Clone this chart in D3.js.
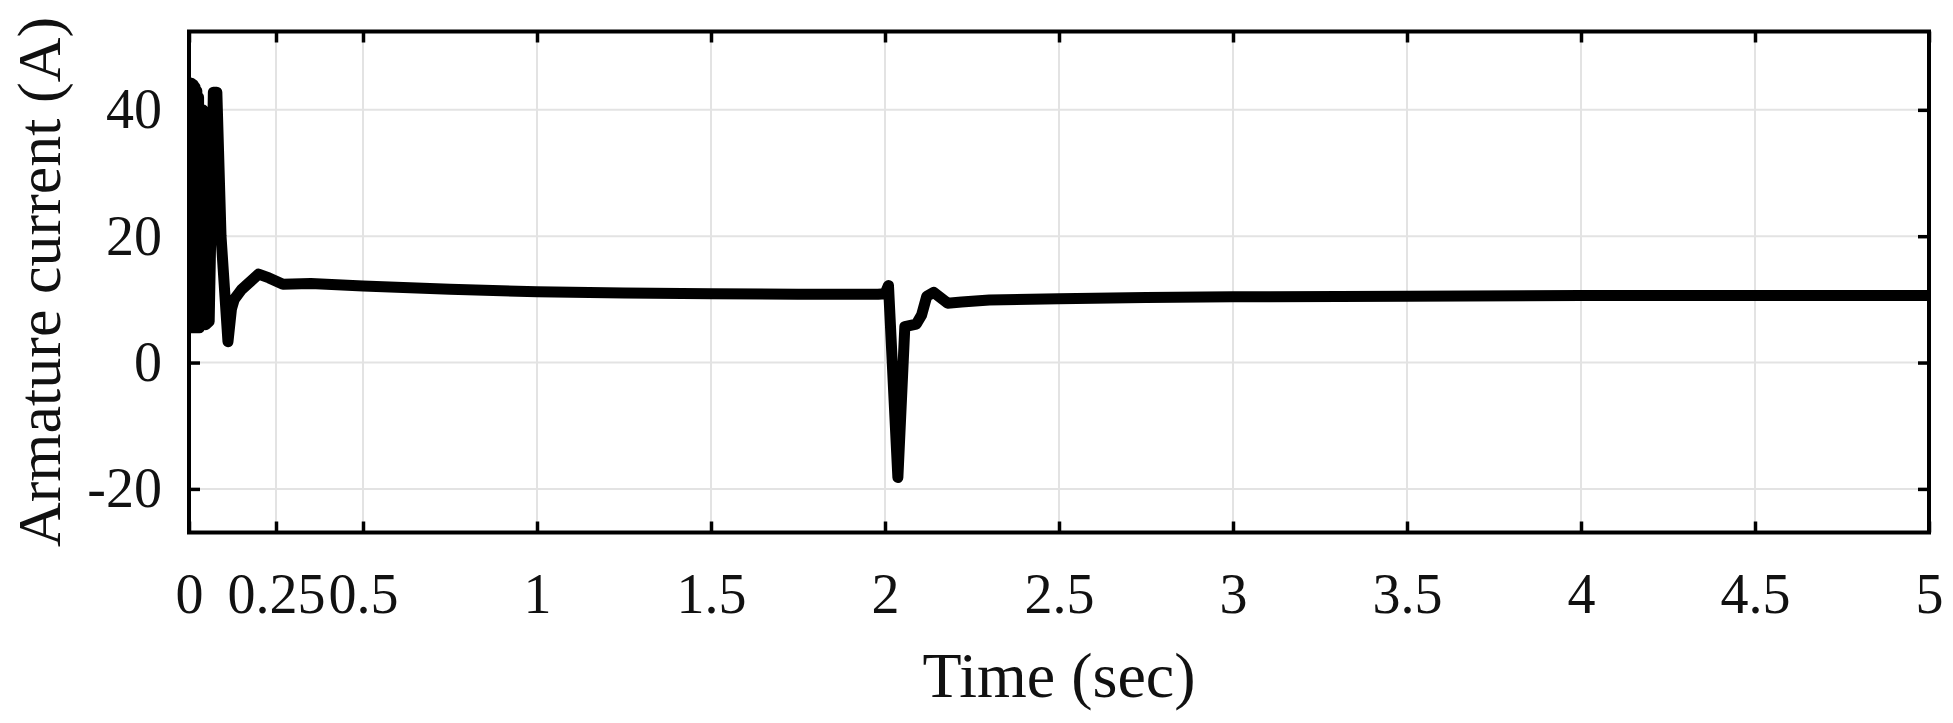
<!DOCTYPE html>
<html lang="en">
<head>
<meta charset="utf-8">
<title>Armature current</title>
<script src="https://cdn.jsdelivr.net/npm/d3@7/dist/d3.min.js"></script>
<style>
  html, body { margin: 0; padding: 0; background: #fff; }
  svg text { font-family: "Liberation Serif", "Times New Roman", serif; fill: #111; }
</style>
</head>
<body>
<svg width="1953" height="723"></svg>
<script>
// time (s) and armature current (A)
var timeSec = [0, 0.0025, 0.005, 0.0075, 0.01, 0.0125, 0.015, 0.0175, 0.02, 0.0225,
  0.025, 0.0275, 0.03, 0.04, 0.048, 0.058, 0.07, 0.08, 0.092, 0.112, 0.122, 0.13,
  0.15, 0.2, 0.23, 0.27, 0.35, 0.5, 0.75, 1.0, 1.25, 1.5, 1.75, 1.98, 2.0, 2.01,
  2.037, 2.057, 2.09, 2.105, 2.12, 2.14, 2.18, 2.22, 2.3, 2.5, 2.75, 3.0, 3.5,
  4.0, 4.5, 5.0];
var currentA = [5.5, 44.3, 5.5, 44.2, 5.5, 44, 5.5, 43.6, 5.5, 43, 5.5, 42, 5.5,
  40, 6, 6.5, 42.8, 42.8, 20, 3.3, 8.5, 10,
  11.5, 14, 13.4, 12.4, 12.5, 12.1, 11.6, 11.2, 11, 10.9, 10.8, 10.8, 10.9, 12.2,
  -18.2, 5.7, 6.1, 7.5, 10.5, 11.1, 9.4, 9.6, 9.9, 10.1, 10.3, 10.4, 10.5,
  10.6, 10.6, 10.6];

var xTickValues = [0, 0.25, 0.5, 1, 1.5, 2, 2.5, 3, 3.5, 4, 4.5, 5];
var xTickLabels = ['0', '0.25', '0.5', '1', '1.5', '2', '2.5', '3', '3.5', '4', '4.5', '5'];
var yTickValues = [-20, 0, 20, 40];
var yTickLabels = ['-20', '0', '20', '40'];

var svg = d3.select('svg');
var pLeft = 189, pRight = 1929, pTop = 31.5, pBottom = 532.5;

var x = d3.scaleLinear().domain([0, 5]).range([pLeft, pRight]);
var y = d3.scaleLinear().domain([-26.9, 52.4]).range([pBottom, pTop]);

// grid
svg.append('g').selectAll('line.vgrid')
  .data(xTickValues)
  .enter().append('line')
  .attr('x1', d => x(d)).attr('x2', d => x(d))
  .attr('y1', pTop).attr('y2', pBottom)
  .style('stroke', '#e3e3e3').style('stroke-width', 2);
svg.append('g').selectAll('line.hgrid')
  .data(yTickValues)
  .enter().append('line')
  .attr('x1', pLeft).attr('x2', pRight)
  .attr('y1', d => y(d)).attr('y2', d => y(d))
  .style('stroke', '#e3e3e3').style('stroke-width', 2);

// data line
svg.append('clipPath').attr('id', 'plotClip')
  .append('rect').attr('x', pLeft).attr('y', pTop)
  .attr('width', pRight - pLeft).attr('height', pBottom - pTop);

var pts = timeSec.map((t, i) => [t, currentA[i]]);
var line = d3.line().x(d => x(d[0])).y(d => y(d[1]));
svg.append('path')
  .datum(pts)
  .attr('clip-path', 'url(#plotClip)')
  .attr('d', line)
  .style('fill', 'none')
  .style('stroke', '#000')
  .style('stroke-width', 11)
  .style('stroke-linejoin', 'round')
  .style('stroke-linecap', 'round');

// axes with inward ticks
var xAxis = d3.axisBottom(x).tickValues(xTickValues)
  .tickFormat((d, i) => xTickLabels[i]).tickSize(-11).tickPadding(41);
var xAxisTop = d3.axisTop(x).tickValues(xTickValues).tickFormat('').tickSize(-11);
var yAxis = d3.axisLeft(y).tickValues(yTickValues)
  .tickFormat((d, i) => yTickLabels[i]).tickSize(-11).tickPadding(27);
var yAxisRight = d3.axisRight(y).tickValues(yTickValues).tickFormat('').tickSize(-11);

function styleAxis(g) {
  g.select('.domain').remove();
  g.selectAll('.tick line').style('stroke', '#000').style('stroke-width', 3.5);
  g.selectAll('.tick text').style('font-size', '56px').style('font-family', '"Liberation Serif", serif').attr('fill', '#111');
}
svg.append('g').attr('transform', 'translate(0,' + pBottom + ')').call(xAxis).call(styleAxis);
svg.append('g').attr('transform', 'translate(0,' + pTop + ')').call(xAxisTop).call(styleAxis);
svg.append('g').attr('transform', 'translate(' + pLeft + ',0)').call(yAxis).call(styleAxis);
svg.append('g').attr('transform', 'translate(' + pRight + ',0)').call(yAxisRight).call(styleAxis);

// frame
svg.append('rect')
  .attr('x', pLeft).attr('y', pTop)
  .attr('width', pRight - pLeft).attr('height', pBottom - pTop)
  .style('fill', 'none').style('stroke', '#000').style('stroke-width', 4);

// labels
svg.append('text')
  .attr('x', (pLeft + pRight) / 2).attr('y', 697)
  .attr('text-anchor', 'middle')
  .style('font-size', '64px')
  .text('Time (sec)');
svg.append('text')
  .attr('transform', 'translate(60,' + (pTop + pBottom) / 2 + ') rotate(-90)')
  .attr('text-anchor', 'middle')
  .style('font-size', '62px')
  .text('Armature current (A)');
</script>
</body>
</html>
